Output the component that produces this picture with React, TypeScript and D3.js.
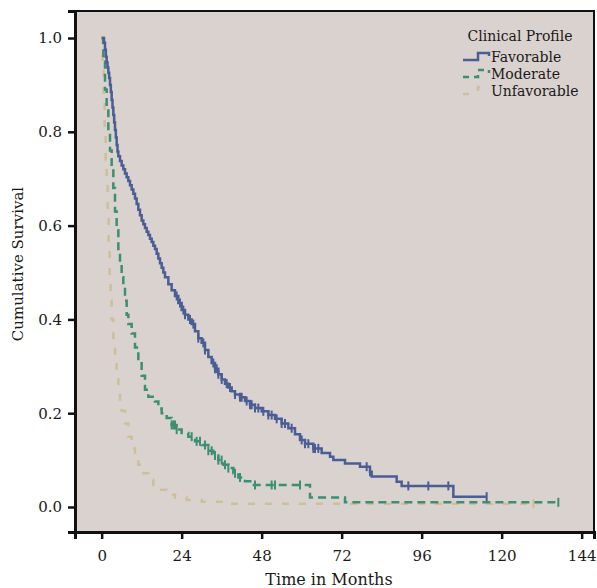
import React, { useEffect, useRef } from 'react';
import * as d3 from 'd3';

// Kaplan-Meier estimates (months, survival)
const favorableTime = [0, 0.7, 1, 1.25, 1.5, 1.75, 2, 2.25, 2.5, 2.75, 3, 3.25, 3.5, 3.75, 4, 4.25, 4.5, 4.75, 5, 5.5, 6, 6.5, 7, 7.5, 8, 8.5, 9, 9.5, 10, 10.5, 11, 11.5, 12, 12.5, 13, 13.5, 14, 14.5, 15, 15.5, 16, 16.5, 17, 17.5, 18, 18.5, 19, 20, 21, 22, 23, 24, 25, 26, 27, 28, 29, 30, 31, 32, 33, 34, 35, 36, 37, 38, 39, 40, 41.5, 43, 44.5, 46, 48, 50, 52, 54, 56, 58, 59.5, 61, 63.5, 66, 68.5, 69.5, 73, 77.5, 80.5, 81, 88.5, 90, 105.5, 115.5];
const favorableSurv = [1, 0.99, 0.975, 0.96, 0.948, 0.937, 0.926, 0.915, 0.9, 0.885, 0.868, 0.852, 0.836, 0.82, 0.804, 0.788, 0.772, 0.758, 0.748, 0.738, 0.728, 0.72, 0.711, 0.703, 0.695, 0.686, 0.677, 0.668, 0.658, 0.646, 0.634, 0.622, 0.611, 0.603, 0.595, 0.587, 0.58, 0.572, 0.565, 0.557, 0.55, 0.54, 0.53, 0.52, 0.51, 0.5, 0.49, 0.475, 0.462, 0.45, 0.435, 0.42, 0.41, 0.4, 0.39, 0.375, 0.36, 0.35, 0.335, 0.32, 0.307, 0.295, 0.283, 0.272, 0.263, 0.255, 0.247, 0.24, 0.234, 0.226, 0.218, 0.211, 0.204, 0.196, 0.188, 0.178, 0.168, 0.155, 0.143, 0.135, 0.125, 0.115, 0.107, 0.1, 0.093, 0.086, 0.075, 0.065, 0.054, 0.045, 0.022, 0.022];
const favorableCensor = [22.5, 23.5, 24.5, 25, 26.5, 27.5, 29, 30.5, 31, 33.5, 34, 34.5, 35, 36, 37.5, 38.5, 40, 41.5, 42, 43.5, 44.5, 45, 46, 47, 48.5, 50, 51, 52.5, 54, 55, 57, 60, 61, 62, 63.5, 64, 65, 79.5, 80.5, 92, 98, 104, 115.5];

const moderateTime = [0, 0.5, 1, 1.5, 2, 2.5, 3, 3.5, 4, 4.5, 5, 5.5, 6, 6.5, 7, 7.5, 8, 9, 10, 11, 12, 13, 14, 16, 17, 18, 19.5, 21, 22.5, 24, 26, 28, 30, 32, 33.5, 35, 36.5, 38, 39.5, 41, 43, 45, 62.5, 73, 137];
const moderateSurv = [1, 0.95, 0.89, 0.85, 0.8, 0.76, 0.72, 0.68, 0.63, 0.59, 0.55, 0.52, 0.49, 0.47, 0.44, 0.41, 0.39, 0.37, 0.34, 0.31, 0.28, 0.25, 0.235, 0.225, 0.21, 0.2, 0.19, 0.175, 0.165, 0.158, 0.15, 0.14, 0.132, 0.12, 0.11, 0.1, 0.09, 0.083, 0.072, 0.063, 0.055, 0.047, 0.02, 0.01, 0.01];
const moderateCensor = [21, 21.5, 22, 22.5, 27, 28.5, 29.5, 31, 32, 33, 34, 35, 36, 37, 38, 40, 41.5, 46, 51, 52, 59.5, 137];

const unfavorableTime = [0, 0.3, 0.6, 0.9, 1.2, 1.5, 1.8, 2.1, 2.4, 2.7, 3, 3.5, 4, 4.5, 5, 5.5, 6, 7, 8, 9, 10, 11, 12.5, 14, 15.5, 17, 19.5, 22, 25.5, 30, 37.5, 131];
const unfavorableSurv = [1, 0.95, 0.88, 0.8, 0.74, 0.69, 0.62, 0.55, 0.48, 0.44, 0.4, 0.35, 0.31, 0.28, 0.25, 0.225, 0.205, 0.178, 0.15, 0.125, 0.105, 0.09, 0.072, 0.058, 0.047, 0.037, 0.026, 0.02, 0.015, 0.011, 0.007, 0.007];
const unfavorableCensor = [129.5];

const groups = ['Favorable', 'Moderate', 'Unfavorable'];
const colors = ['#4a5d94', '#3b8f72', '#cdbf98'];
const dashes = ['none', '8,5', '7,10'];
const xTicks = [0, 24, 48, 72, 96, 120, 144];
const yTicks = [0, 0.2, 0.4, 0.6, 0.8, 1.0];

const W = 597, H = 588;
const FONT = '"DejaVu Serif", serif';
const INK = '#1a1a1a';

const App = () => {
  const svgRef = useRef<SVGSVGElement>(null);

  useEffect(() => {
    const svg = d3.select(svgRef.current);
    svg.selectAll('*').remove();

    const x = d3.scaleLinear().domain([-8, 147.7]).range([75, 594]);
    const y = d3.scaleLinear().domain([-0.0533, 1.0576]).range([532, 11]);

    svg.append('rect')
      .attr('x', 75).attr('y', 11).attr('width', 519).attr('height', 521)
      .attr('fill', '#dad2cf').attr('stroke', '#111').attr('stroke-width', 2);

    const xAxis = svg.append('g').attr('transform', 'translate(0,532)')
      .call(d3.axisBottom(x).tickValues(xTicks).tickSize(7).tickPadding(11).tickFormat(d3.format('d')));
    const yAxis = svg.append('g').attr('transform', 'translate(75,0)')
      .call(d3.axisLeft(y).tickValues(yTicks).tickSize(7).tickPadding(6).tickFormat(d3.format('.1f')));
    [xAxis, yAxis].forEach(a => {
      a.select('.domain').attr('stroke', '#111').attr('stroke-width', 3);
      a.selectAll('.tick line').attr('stroke', '#111').attr('stroke-width', 2.5);
      a.selectAll('.tick text').attr('fill', INK).style('font-family', FONT).style('font-size', '15px');
    });

    const series = [
      { t: favorableTime, s: favorableSurv, c: favorableCensor },
      { t: moderateTime, s: moderateSurv, c: moderateCensor },
      { t: unfavorableTime, s: unfavorableSurv, c: unfavorableCensor },
    ];

    const line = d3.line<[number, number]>()
      .x(d => x(d[0])).y(d => y(d[1]))
      .curve(d3.curveStepAfter);

    // draw back to front so Favorable sits on top
    series.slice().reverse().forEach((g, ri) => {
      const i = series.length - 1 - ri;
      const pts = g.t.map((t, k) => [t, g.s[k]] as [number, number]);
      svg.append('path')
        .attr('d', line(pts))
        .attr('fill', 'none')
        .attr('stroke', colors[i])
        .attr('stroke-width', 2.5)
        .attr('stroke-dasharray', dashes[i]);
      const survAt = (tt: number) => {
        const k = d3.bisectRight(g.t, tt) - 1;
        return g.s[Math.max(0, k)];
      };
      svg.append('g').selectAll('line')
        .data(g.c)
        .join('line')
        .attr('x1', d => x(d)).attr('x2', d => x(d))
        .attr('y1', d => y(survAt(d)) - 4.5).attr('y2', d => y(survAt(d)) + 4.5)
        .attr('stroke', colors[i]).attr('stroke-width', 2);
    });

    // legend
    const lg = svg.append('g');
    lg.append('text').attr('x', 520).attr('y', 41).attr('text-anchor', 'middle')
      .style('font-family', FONT).style('font-size', '14px').attr('fill', INK)
      .text('Clinical Profile');
    groups.forEach((name, i) => {
      const yy = 58 + i * 17;
      lg.append('path')
        .attr('d', `M463,${yy + 2}H478V${yy - 5}H489V${yy - 2}`)
        .attr('fill', 'none').attr('stroke', colors[i]).attr('stroke-width', 2.5)
        .attr('stroke-dasharray', i === 0 ? 'none' : i === 1 ? '6,5' : '6,12');
      lg.append('text').attr('x', 491).attr('y', yy + 4)
        .style('font-family', FONT).style('font-size', '14px').attr('fill', INK)
        .text(name);
    });

    svg.append('text')
      .attr('transform', `translate(23,264) rotate(-90)`)
      .attr('text-anchor', 'middle')
      .style('font-family', FONT).style('font-size', '15px').attr('fill', INK)
      .text('Cumulative Survival');
    svg.append('text')
      .attr('x', 329).attr('y', 585).attr('text-anchor', 'middle')
      .style('font-family', FONT).style('font-size', '16px').attr('fill', INK)
      .text('Time in Months');
  }, []);

  return (
    <svg ref={svgRef} width={W} height={H}
      style={{ position: 'absolute', left: 0, top: 0, background: '#fff' }} />
  );
};

export default App;
